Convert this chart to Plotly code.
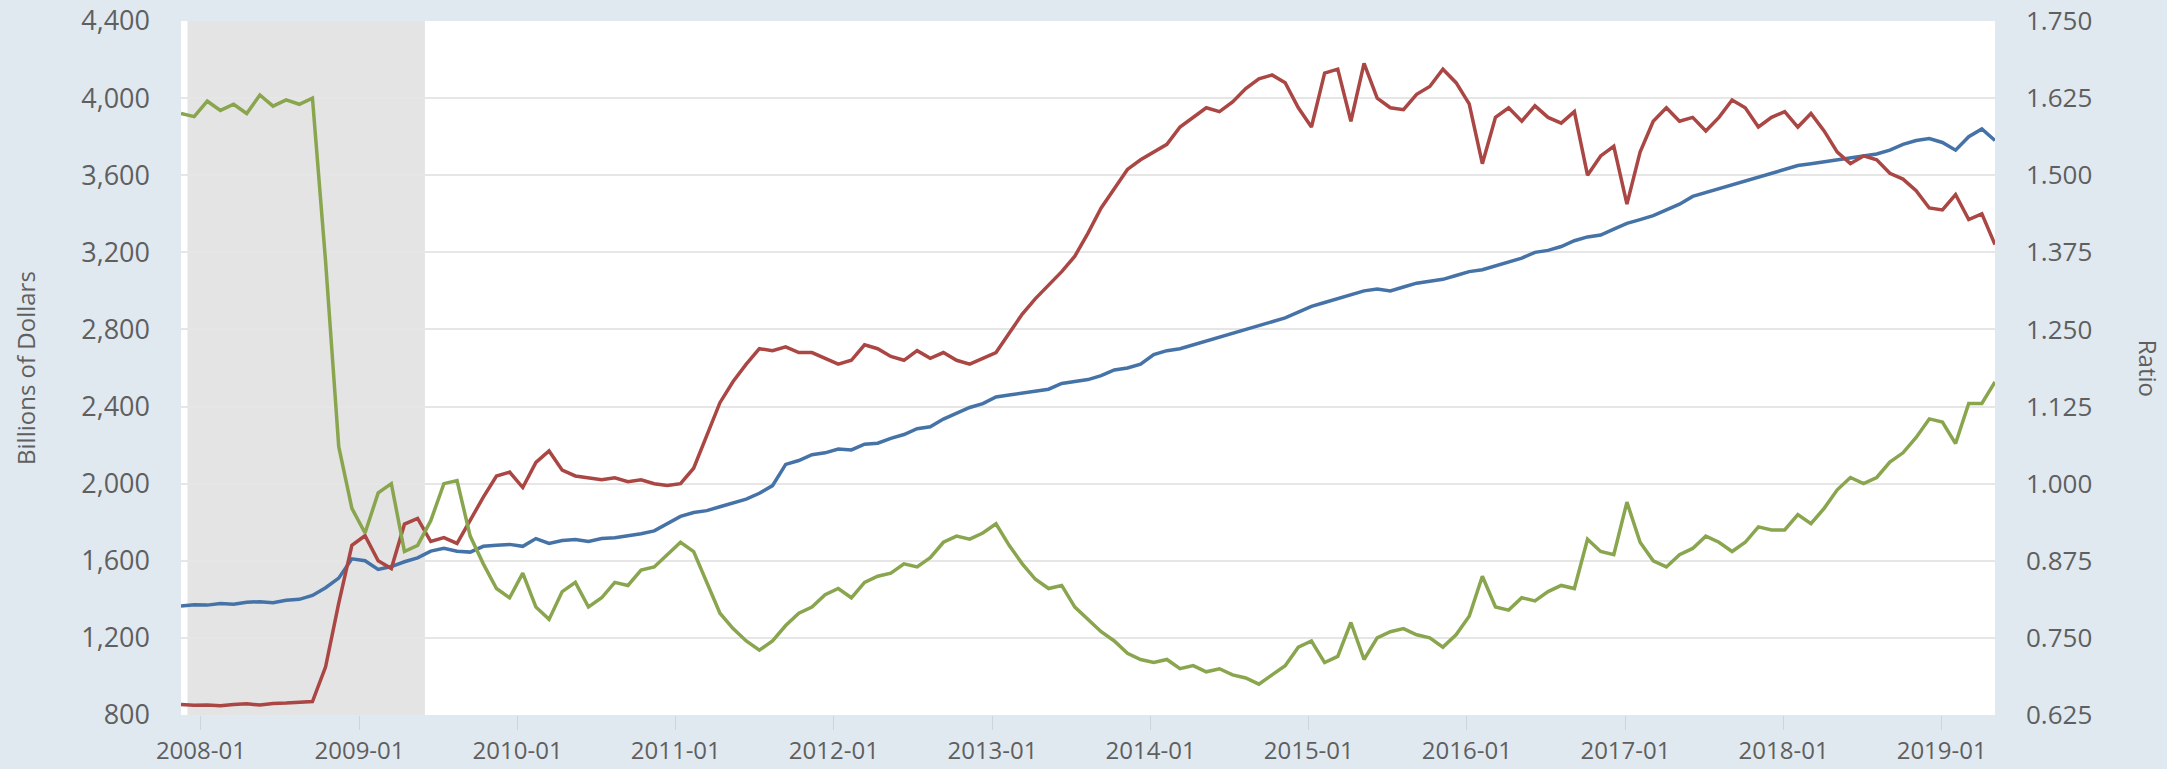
import pandas as pd
import plotly.graph_objects as go

# monthly readings, Nov 2007 .. Apr 2019 plus the last point in early May 2019
m1 = [
    1365, 1372,
    1370, 1378, 1375, 1385, 1388, 1382, 1395, 1400, 1420, 1460, 1510, 1610,
    1600, 1555, 1570, 1595, 1615, 1650, 1665, 1650, 1645, 1675, 1680, 1685,
    1675, 1715, 1690, 1705, 1710, 1700, 1715, 1720, 1730, 1740, 1755, 1790,
    1830, 1850, 1860, 1880, 1900, 1920, 1950, 1990, 2100, 2120, 2150, 2160,
    2180, 2175, 2205, 2210, 2235, 2255, 2285, 2295, 2335, 2365, 2395, 2415,
    2450, 2460, 2470, 2480, 2490, 2520, 2530, 2540, 2560, 2590, 2600, 2620,
    2670, 2690, 2700, 2720, 2740, 2760, 2780, 2800, 2820, 2840, 2860, 2890,
    2920, 2940, 2960, 2980, 3000, 3010, 3000, 3020, 3040, 3050, 3060, 3080,
    3100, 3110, 3130, 3150, 3170, 3200, 3210, 3230, 3260, 3280, 3290, 3320,
    3350, 3370, 3390, 3420, 3450, 3490, 3510, 3530, 3550, 3570, 3590, 3610,
    3630, 3650, 3660, 3670, 3680, 3690, 3700, 3710, 3730, 3760, 3780, 3790,
    3770, 3730, 3800, 3840, 3780,
]

monetary_base = [
    855, 850,
    852, 848, 855, 858, 852, 860, 862, 865, 870, 1050, 1380, 1680,
    1730, 1600, 1560, 1790, 1820, 1700, 1720, 1690, 1810, 1930, 2040, 2060,
    1980, 2110, 2170, 2070, 2040, 2030, 2020, 2030, 2010, 2020, 2000, 1990,
    2000, 2080, 2250, 2420, 2530, 2620, 2700, 2690, 2710, 2680, 2680, 2650,
    2620, 2640, 2720, 2700, 2660, 2640, 2690, 2650, 2680, 2640, 2620, 2650,
    2680, 2780, 2880, 2960, 3030, 3100, 3180, 3300, 3430, 3530, 3630, 3680,
    3720, 3760, 3850, 3900, 3950, 3930, 3980, 4050, 4100, 4120, 4080, 3950,
    3850, 4130, 4150, 3880, 4180, 4000, 3950, 3940, 4020, 4060, 4150, 4080,
    3970, 3660, 3900, 3950, 3880, 3960, 3900, 3870, 3930, 3600, 3700, 3750,
    3450, 3720, 3880, 3950, 3880, 3900, 3830, 3900, 3990, 3950, 3850, 3900,
    3930, 3850, 3920, 3830, 3720, 3660, 3700, 3680, 3610, 3580, 3520, 3430,
    3420, 3500, 3370, 3400, 3240,
]

m1_multiplier = [
    1.600, 1.595,
    1.620, 1.605, 1.615, 1.600, 1.630, 1.612, 1.622, 1.615, 1.625, 1.360, 1.060, 0.960,
    0.920, 0.985, 1.000, 0.890, 0.900, 0.940, 1.000, 1.005, 0.915, 0.870, 0.830, 0.815,
    0.855, 0.800, 0.780, 0.825, 0.840, 0.800, 0.815, 0.840, 0.835, 0.860, 0.865, 0.885,
    0.905, 0.890, 0.840, 0.790, 0.765, 0.745, 0.730, 0.745, 0.770, 0.790, 0.800, 0.820,
    0.830, 0.815, 0.840, 0.850, 0.855, 0.870, 0.865, 0.880, 0.905, 0.915, 0.910, 0.920,
    0.935, 0.900, 0.870, 0.845, 0.830, 0.835, 0.800, 0.780, 0.760, 0.745, 0.725, 0.715,
    0.710, 0.715, 0.700, 0.705, 0.695, 0.700, 0.690, 0.685, 0.675, 0.690, 0.705, 0.735,
    0.745, 0.710, 0.720, 0.775, 0.715, 0.750, 0.760, 0.765, 0.755, 0.750, 0.735, 0.755,
    0.785, 0.850, 0.800, 0.795, 0.815, 0.810, 0.825, 0.835, 0.830, 0.910, 0.890, 0.885,
    0.970, 0.905, 0.875, 0.865, 0.885, 0.895, 0.915, 0.905, 0.890, 0.905, 0.930, 0.925,
    0.925, 0.950, 0.935, 0.960, 0.990, 1.010, 1.000, 1.010, 1.035, 1.050, 1.075, 1.105,
    1.100, 1.065, 1.130, 1.130, 1.165,
]

dates = pd.date_range("2007-11-16", "2019-05-04", periods=len(m1))

left_ticks = list(range(800, 4401, 400))
right_ticks = [0.625, 0.75, 0.875, 1.0, 1.125, 1.25, 1.375, 1.5, 1.625, 1.75]

font = "Open Sans"
grey = "#5f5f5f"
page_bg = "#e1e9f0"

fig = go.Figure()
fig.add_trace(go.Scatter(x=dates, y=m1, mode="lines", name="M1",
                         line=dict(color="#4572a7", width=3.5)))
fig.add_trace(go.Scatter(x=dates, y=monetary_base, mode="lines", name="Monetary Base",
                         line=dict(color="#aa4643", width=3.5)))
fig.add_trace(go.Scatter(x=dates, y=m1_multiplier, mode="lines", name="M1 Money Multiplier",
                         line=dict(color="#89a54e", width=3.5), yaxis="y2"))

# recession shading
fig.add_shape(type="rect", xref="x", yref="paper", x0="2007-12-01", x1="2009-06-01",
              y0=0, y1=1, fillcolor="#e4e4e4", line=dict(width=0), layer="between")

fig.update_layout(
    width=2167, height=769,
    margin=dict(l=181, r=172, t=21, b=54),
    paper_bgcolor=page_bg, plot_bgcolor="white",
    showlegend=False,
    font=dict(family=font, color=grey),
    xaxis=dict(
        type="date", range=["2007-11-16", "2019-05-04"],
        tickformat="%Y-%m", dtick="M12", tick0="2008-01-01",
        showgrid=False, zeroline=False, showline=False, automargin=False,
        ticks="outside", ticklen=14, tickcolor="#cbd5df",
        tickfont=dict(family=font, size=24, color=grey),
    ),
    yaxis=dict(
        range=[800, 4400], tickvals=left_ticks, tickformat=",",
        gridcolor="#e6e6e6", gridwidth=2, zeroline=False, showline=False,
        automargin=False, ticklabelstandoff=30,
        tickfont=dict(family=font, size=27, color=grey),
    ),
    yaxis2=dict(
        overlaying="y", side="right", range=[0.625, 1.75],
        tickvals=right_ticks, tickformat=".3f",
        showgrid=False, zeroline=False, showline=False,
        automargin=False, ticklabelstandoff=30,
        tickfont=dict(family=font, size=26, color=grey),
    ),
    annotations=[
        dict(text="Billions of Dollars", xref="paper", yref="paper", x=-0.086, y=0.5,
             xanchor="center", yanchor="middle", textangle=-90, showarrow=False,
             font=dict(family=font, size=24, color=grey)),
        dict(text="Ratio", xref="paper", yref="paper", x=1.085, y=0.5,
             xanchor="center", yanchor="middle", textangle=90, showarrow=False,
             font=dict(family=font, size=24, color=grey)),
    ],
)

# drop the browser's default body margin so the figure sits at the page corner
fig.write_html(
    "out.html",
    config={"displayModeBar": False},
    post_script=f"document.body.style.margin='0';document.body.style.background='{page_bg}';",
)
